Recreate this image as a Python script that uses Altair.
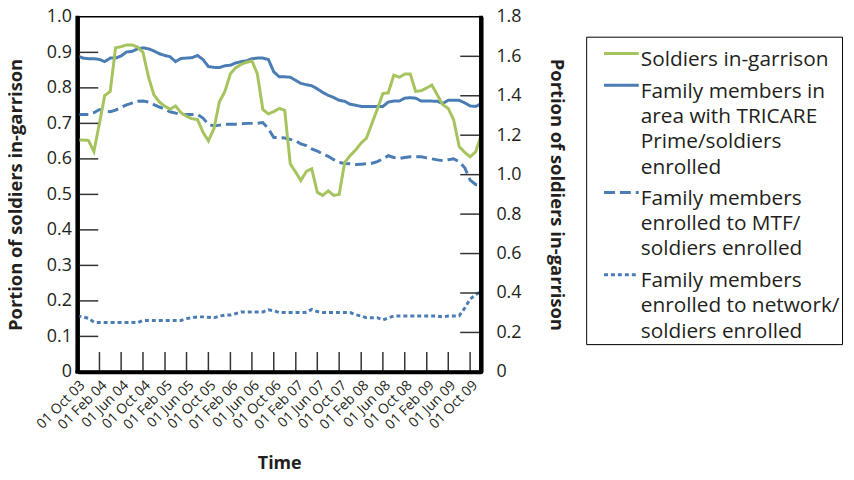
import altair as alt
import pandas as pd

# ---------------- data ----------------
start_month = "2003-10-01"          # monthly series, Oct 2003 .. Dec 2009
n_months = 75

soldiers_in_garrison = [  # left axis
    0.653, 0.653, 0.652, 0.621, 0.700, 0.778, 0.790, 0.913, 0.916, 0.921,
    0.921, 0.915, 0.900, 0.830, 0.780, 0.760, 0.748, 0.740, 0.749, 0.730,
    0.720, 0.713, 0.711, 0.675, 0.651, 0.685, 0.760, 0.790, 0.840, 0.856,
    0.866, 0.872, 0.876, 0.840, 0.739, 0.727, 0.733, 0.742, 0.737, 0.586,
    0.562, 0.539, 0.565, 0.572, 0.506, 0.497, 0.510, 0.497, 0.500, 0.590,
    0.609, 0.625, 0.645, 0.658, 0.700, 0.740, 0.784, 0.786, 0.836, 0.830,
    0.839, 0.839, 0.790, 0.792, 0.800, 0.808, 0.780, 0.753, 0.742, 0.710,
    0.635, 0.618, 0.606, 0.620, 0.665,
]
tricare_prime = [  # right axis
    1.602, 1.591, 1.588, 1.588, 1.584, 1.573, 1.591, 1.591, 1.602, 1.622,
    1.625, 1.638, 1.643, 1.638, 1.627, 1.613, 1.604, 1.598, 1.573, 1.589,
    1.591, 1.593, 1.604, 1.584, 1.548, 1.544, 1.543, 1.552, 1.555, 1.566,
    1.573, 1.577, 1.588, 1.591, 1.591, 1.584, 1.521, 1.496, 1.496, 1.494,
    1.478, 1.463, 1.456, 1.451, 1.435, 1.417, 1.402, 1.391, 1.377, 1.372,
    1.357, 1.352, 1.346, 1.346, 1.346, 1.346, 1.346, 1.368, 1.373, 1.373,
    1.388, 1.390, 1.388, 1.373, 1.373, 1.373, 1.372, 1.361, 1.377, 1.377,
    1.377, 1.364, 1.348, 1.346, 1.359,
]
mtf_enrolled = [  # right axis
    1.305, 1.305, 1.305, 1.314, 1.330, 1.323, 1.319, 1.327, 1.341, 1.354,
    1.363, 1.372, 1.373, 1.368, 1.355, 1.343, 1.332, 1.319, 1.312, 1.305,
    1.305, 1.305, 1.305, 1.287, 1.255, 1.247, 1.251, 1.255, 1.255, 1.256,
    1.258, 1.260, 1.260, 1.260, 1.264, 1.233, 1.188, 1.188, 1.186, 1.179,
    1.172, 1.156, 1.147, 1.130, 1.120, 1.105, 1.093, 1.076, 1.062, 1.057,
    1.055, 1.051, 1.053, 1.055, 1.058, 1.066, 1.080, 1.096, 1.087, 1.082,
    1.087, 1.091, 1.091, 1.091, 1.085, 1.080, 1.075, 1.071, 1.076, 1.080,
    1.066, 1.035, 0.972, 0.950, 0.945,
]
network_enrolled = [  # right axis
    0.283, 0.279, 0.272, 0.252, 0.250, 0.250, 0.250, 0.250, 0.250, 0.250,
    0.250, 0.250, 0.261, 0.261, 0.261, 0.261, 0.261, 0.261, 0.261, 0.261,
    0.270, 0.275, 0.279, 0.279, 0.277, 0.274, 0.283, 0.288, 0.288, 0.295,
    0.304, 0.304, 0.304, 0.304, 0.304, 0.315, 0.310, 0.301, 0.301, 0.301,
    0.301, 0.301, 0.302, 0.317, 0.306, 0.301, 0.301, 0.301, 0.301, 0.301,
    0.301, 0.290, 0.283, 0.275, 0.275, 0.275, 0.263, 0.274, 0.283, 0.283,
    0.283, 0.283, 0.283, 0.283, 0.283, 0.283, 0.283, 0.279, 0.283, 0.283,
    0.284, 0.324, 0.369, 0.391, 0.409,
]

series_names = [
    "Soldiers in-garrison",
    "Family members in|area with TRICARE|Prime/soldiers|enrolled",
    "Family members|enrolled to MTF/|soldiers enrolled",
    "Family members|enrolled to network/|soldiers enrolled",
]
left_ticks = [0.1, 0.2, 0.3, 0.4, 0.5, 0.6, 0.7, 0.8, 0.9]
right_ticks = [0.2, 0.4, 0.6, 0.8, 1.0, 1.2, 1.4, 1.6]
left_labels = [0, 0.1, 0.2, 0.3, 0.4, 0.5, 0.6, 0.7, 0.8, 0.9, 1.0]
right_labels = [0, 0.2, 0.4, 0.6, 0.8, 1.0, 1.2, 1.4, 1.6, 1.8]
x_tick_months = [(2003, 10), (2004, 2), (2004, 6), (2004, 10), (2005, 2), (2005, 6),
                 (2005, 10), (2006, 2), (2006, 6), (2006, 10), (2007, 2), (2007, 6),
                 (2007, 10), (2008, 2), (2008, 6), (2008, 10), (2009, 2), (2009, 6),
                 (2009, 10)]

# ---------------- tables ----------------
months = pd.date_range(start_month, periods=n_months, freq="MS")
for arr in (soldiers_in_garrison, tricare_prime, mtf_enrolled, network_enrolled):
    assert len(arr) == n_months

df_left = pd.DataFrame({"date": months, "v": soldiers_in_garrison, "series": series_names[0]})
df_right = pd.concat([
    pd.DataFrame({"date": months, "v": tricare_prime, "series": series_names[1]}),
    pd.DataFrame({"date": months, "v": mtf_enrolled, "series": series_names[2]}),
    pd.DataFrame({"date": months, "v": network_enrolled, "series": series_names[3]}),
], ignore_index=True)
df_xticks = pd.DataFrame({"date": [pd.Timestamp(y, m, 1) for y, m in x_tick_months]})
df_lticks = pd.DataFrame({"v": left_ticks})
df_rticks = pd.DataFrame({"v": right_ticks})
df_one = df_lticks.head(1)

# ---------------- styling ----------------
GREEN = "#a5c45e"
BLUE = "#4a7db4"
INK = "#231f20"
TICK = "#333333"
FONT = "Open Sans"
W, H = 407, 358

x_domain = [alt.DateTime(year=2003, month=10, date=1), alt.DateTime(year=2009, month=12, date=1)]
x_scale = alt.Scale(domain=x_domain)
yl_scale = alt.Scale(domain=[0, 1.0], nice=False, zero=True)
yr_scale = alt.Scale(domain=[0, 1.8], nice=False, zero=True)

color_scale = alt.Scale(domain=series_names, range=[GREEN, BLUE, BLUE, BLUE])
dash_scale = alt.Scale(domain=series_names, range=[[1, 0], [1, 0], [11, 5], [4, 3]])
legend = alt.Legend(title=None, labelExpr="split(datum.label, '|')")

color_enc = alt.Color("series:N", scale=color_scale, legend=legend)
dash_enc = alt.StrokeDash("series:N", scale=dash_scale, legend=legend)

x_axis = alt.Axis(
    values=[alt.DateTime(year=y, month=m, date=1) for y, m in x_tick_months],
    format="%d %b %y", labelAngle=315, labelAlign="right", labelBaseline="top",
    labelPadding=6, labelFontSize=14, labelOverlap=False, ticks=False,
    domainColor="black", domainWidth=3.5, title="Time", titleFontSize=18,
    titleFontWeight="bold", titlePadding=23, grid=False,
)

label_expr = "datum.value == 0 ? '0' : format(datum.value, '.1f')"

green_line = alt.Chart(df_left).mark_line(strokeWidth=3).encode(
    x=alt.X("date:T", scale=x_scale, axis=x_axis),
    y=alt.Y("v:Q", scale=yl_scale,
            axis=alt.Axis(orient="left", values=left_labels, labelPadding=6,
                          labelExpr=label_expr, labelFontSize=18,
                          ticks=False, grid=False, domainColor="black", domainWidth=4,
                          title="Portion of soldiers in-garrison", titleFontSize=18.5,
                          titleFontWeight="bold", titlePadding=21)),
    color=color_enc, strokeDash=dash_enc,
)
blue_lines = alt.Chart(df_right).mark_line(strokeWidth=3).encode(
    x=alt.X("date:T", scale=x_scale, axis=x_axis),
    y=alt.Y("v:Q", scale=yr_scale,
            axis=alt.Axis(orient="right", values=right_labels, labelPadding=15,
                          labelExpr=label_expr, labelFontSize=18,
                          ticks=False, grid=False, domainColor="black", domainWidth=4,
                          title="Portion of soldiers in-garrison", titleFontSize=18.5,
                          titleFontWeight="bold", titlePadding=26)),
    color=color_enc, strokeDash=dash_enc, detail="series:N",
)

# inward tick marks (drawn as tick marks on the chart's own scales)
left_tick_marks = alt.Chart(df_lticks).mark_tick(
    orient="horizontal", size=21, thickness=1.5, color=TICK, opacity=1).encode(
    y=alt.Y("v:Q", scale=yl_scale, axis=None), x=alt.value(10.5),
)
right_tick_marks = alt.Chart(df_rticks).mark_tick(
    orient="horizontal", size=21, thickness=1.5, color=TICK, opacity=1).encode(
    y=alt.Y("v:Q", scale=yr_scale, axis=None), x=alt.value(W - 10.5),
)
x_tick_marks = alt.Chart(df_xticks).mark_tick(
    orient="vertical", size=20, thickness=1.5, color=TICK, opacity=1).encode(
    x=alt.X("date:T", scale=x_scale, axis=x_axis), y=alt.value(H - 10),
)

# heavy frame lines on the left, right and bottom edges
frame_left = alt.Chart(df_one).mark_tick(
    orient="vertical", size=H + 2, thickness=4, color="black", opacity=1).encode(
    x=alt.value(0), y=alt.value(H / 2))
frame_right = alt.Chart(df_one).mark_tick(
    orient="vertical", size=H + 2, thickness=4, color="black", opacity=1).encode(
    x=alt.value(W), y=alt.value(H / 2))
frame_bottom = alt.Chart(df_one).mark_tick(
    orient="horizontal", size=W + 4, thickness=3.5, color="black", opacity=1).encode(
    x=alt.value(W / 2), y=alt.value(H))

# drop shadow of the legend box (bottom and right edges)
shadow_bottom = alt.Chart(df_one).mark_rule(color="black", strokeWidth=4).encode(
    x=alt.value(514), x2=alt.value(767), y=alt.value(329),
)
shadow_right = alt.Chart(df_one).mark_rule(color="black", strokeWidth=4).encode(
    x=alt.value(765), y=alt.value(25), y2=alt.value(331),
)

chart = alt.layer(
    blue_lines, green_line, left_tick_marks, right_tick_marks, x_tick_marks,
    frame_left, frame_right, frame_bottom, shadow_bottom, shadow_right,
).resolve_scale(y="independent").properties(
    width=W, height=H,
    autosize=alt.AutoSizeParams(type="none"),
    padding={"left": 70, "top": 7, "right": 368, "bottom": 99},
).configure(
    font=FONT,
    style={"guide-label": {"lineHeight": 25.5}},
).configure_view(
    stroke="black", strokeWidth=1.5,
).configure_axis(
    labelColor=INK, titleColor=INK, labelFont=FONT, titleFont=FONT,
).configure_legend(
    orient="none", legendX=513, legendY=20, padding=2,
    strokeColor="black", fillColor="white",
    symbolType="M-17.5,4.5H17.5", symbolSize=4, symbolStrokeWidth=3,
    symbolOffset=23,
    labelFontSize=21, labelColor=INK, labelFont=FONT, labelLimit=400,
    labelOffset=9, labelBaseline="top", rowPadding=0,
)

chart.save("out.html", embed_options={"renderer": "svg", "actions": False})
